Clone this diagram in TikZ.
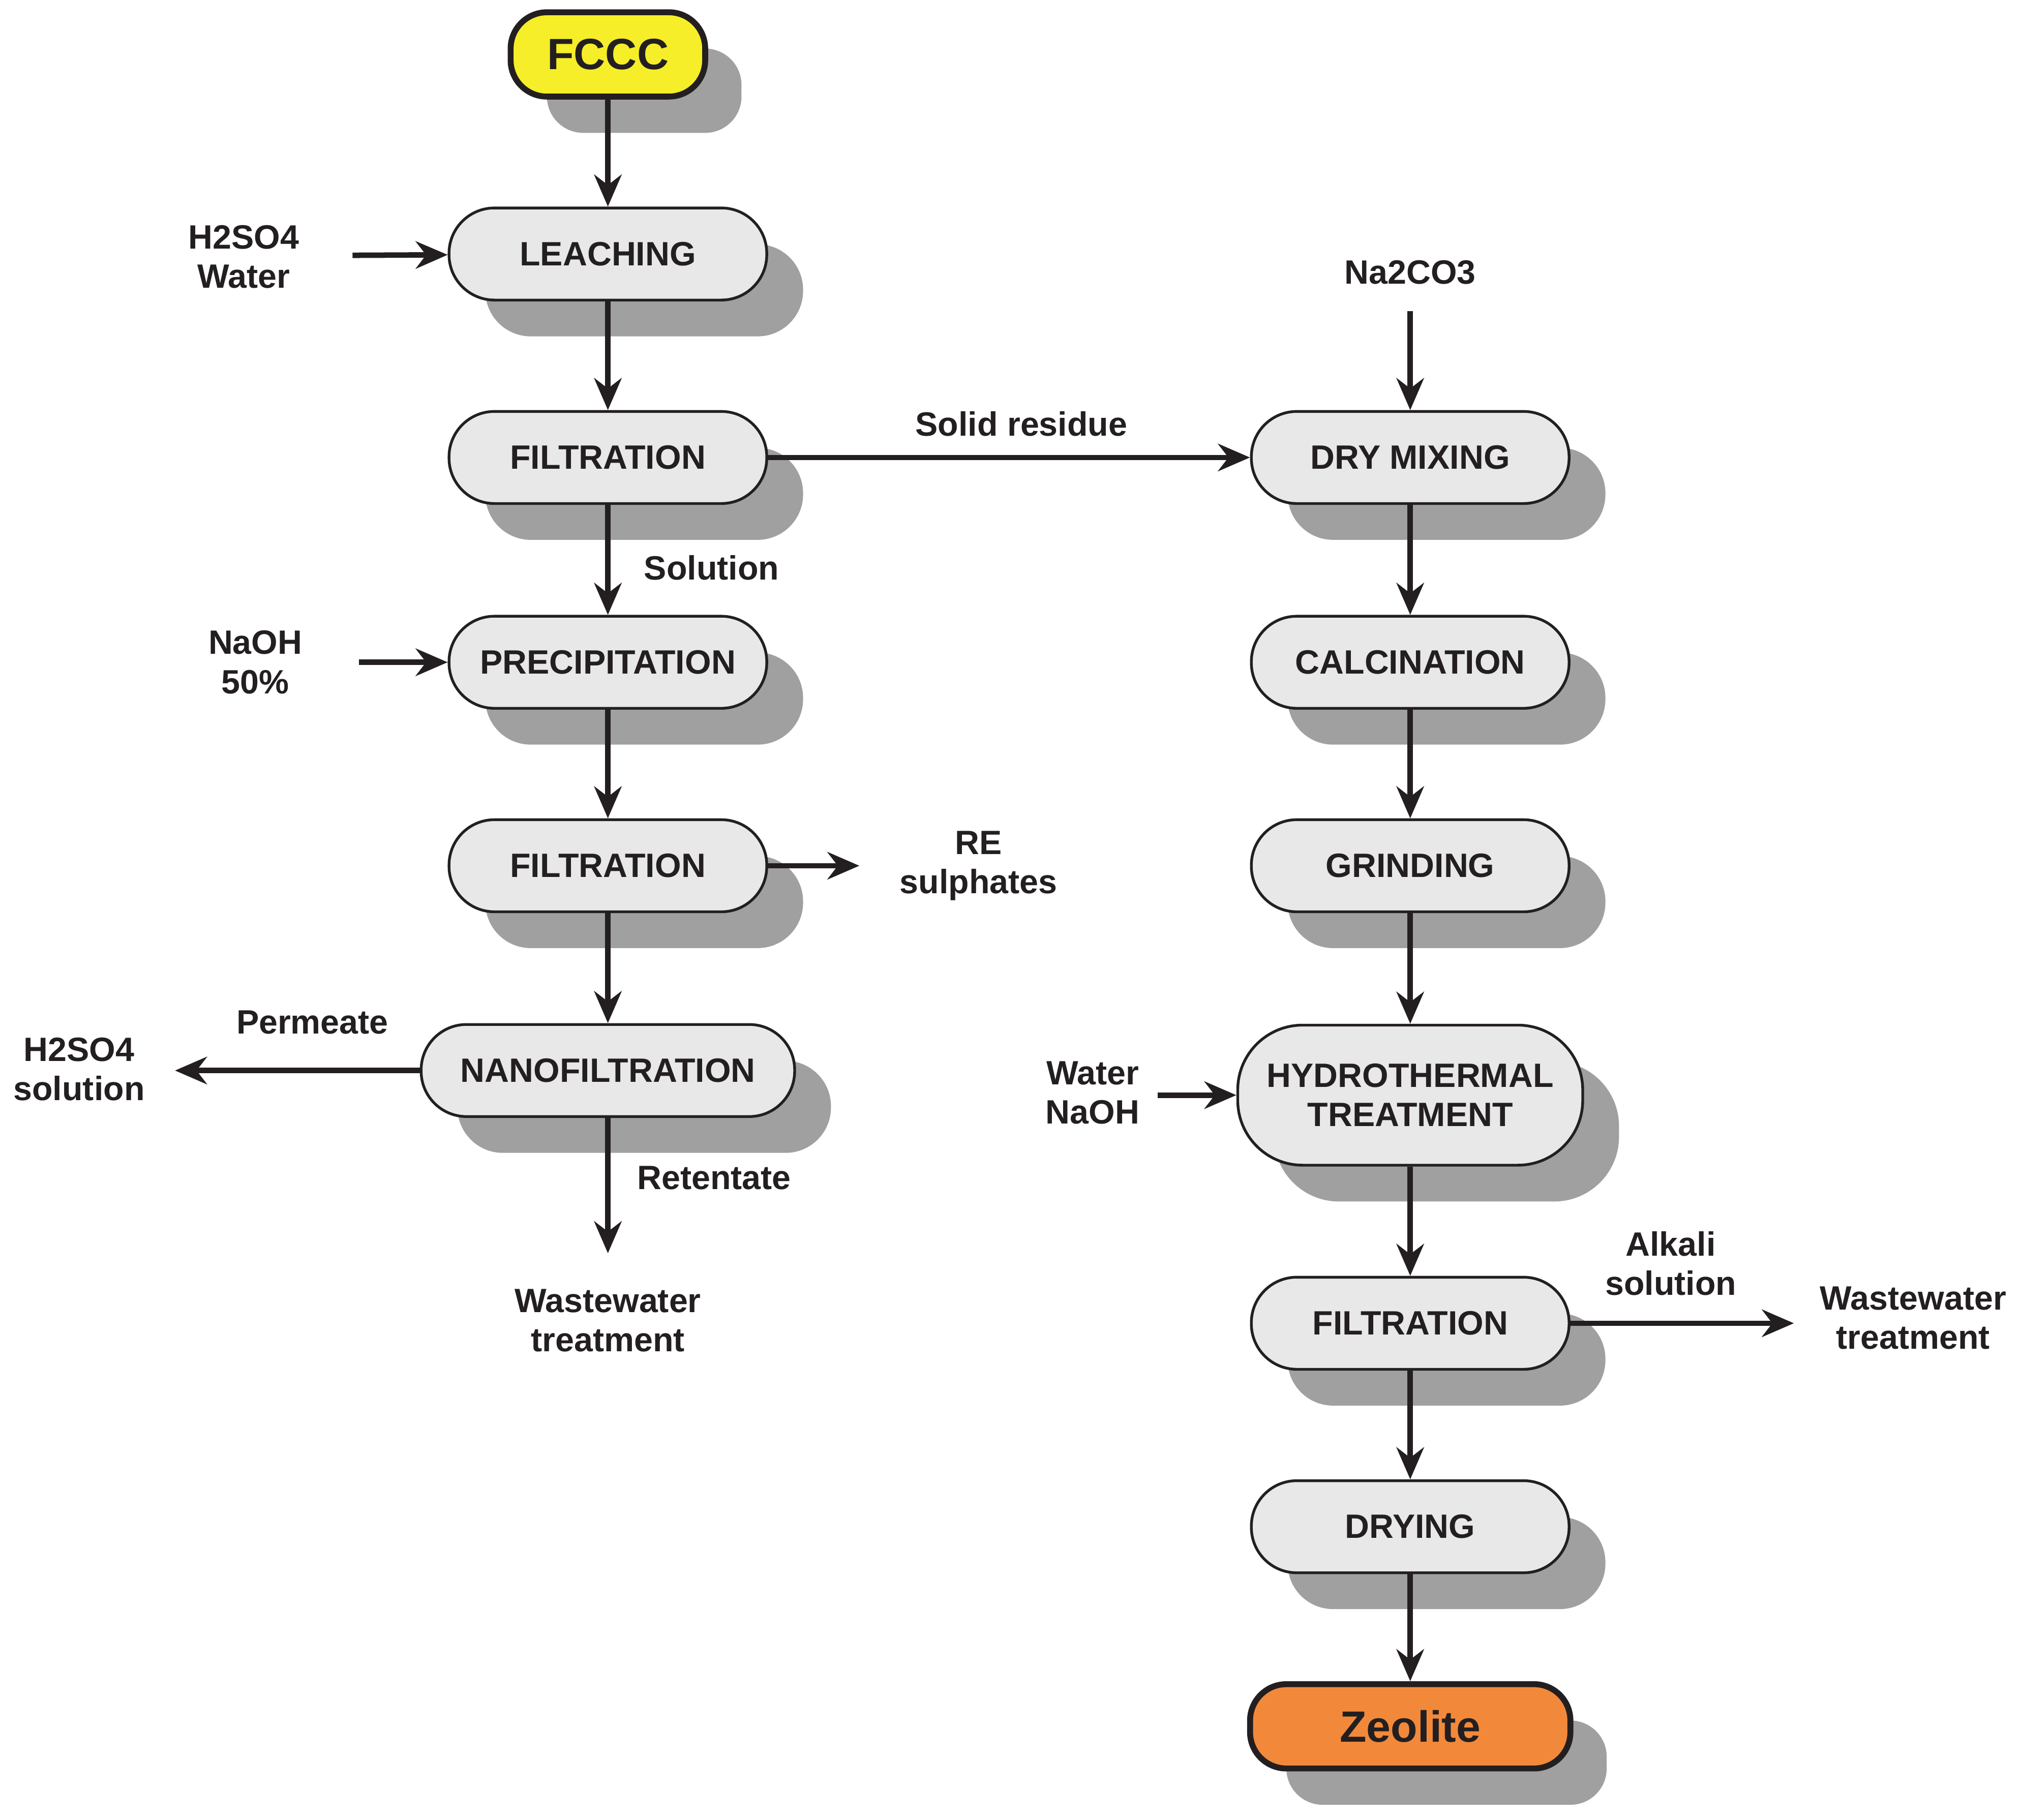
\documentclass[tikz,border=0pt]{standalone}
\usepackage{fontspec}
\setmainfont{Liberation Sans}
\usetikzlibrary{arrows.meta,shadows}
\definecolor{boxfill}{RGB}{231,232,231}
\definecolor{shad}{RGB}{160,160,160}
\definecolor{ln}{RGB}{35,31,32}
\definecolor{yel}{RGB}{245,238,40}
\definecolor{ora}{RGB}{242,137,58}
\begin{document}
\begin{tikzpicture}[x=0.01cm,y=-0.01cm,
  font=\fontsize{7.4}{8.6}\selectfont\bfseries,
  box/.style={draw=ln,line width=0.6pt,fill=boxfill,rounded corners=0.35cm,
     minimum width=2.45cm,minimum height=0.71cm,align=center,text=ln,
     drop shadow={shadow xshift=0.28cm,shadow yshift=-0.28cm,fill=shad,opacity=1}},
  term/.style={box,line width=1.3pt,minimum width=1.5cm,minimum height=0.65cm,rounded corners=0.28cm,font=\fontsize{9.6}{11}\selectfont\bfseries},
  lab/.style={align=center,text=ln,inner sep=0pt},
  arr/.style={draw=ln,line width=1.2pt,-{Stealth[length=7pt,width=6pt]}}]
\useasboundingbox (0,0) rectangle (1560,1404);
% left column
\node[term,fill=yel] (fccc) at (469,42) {FCCC};
\node[box] (leach) at (469,196) {LEACHING};
\node[box] (filt1) at (469,353) {FILTRATION};
\node[box] (prec) at (469,511) {PRECIPITATION};
\node[box] (filt2) at (469,668) {FILTRATION};
\node[box,minimum width=2.88cm] (nano) at (469,826) {NANOFILTRATION};
% right column
\node[box] (dry) at (1088,353) {DRY MIXING};
\node[box] (calc) at (1088,511) {CALCINATION};
\node[box] (grind) at (1088,668) {GRINDING};
\node[box,minimum width=2.66cm,minimum height=1.08cm,rounded corners=0.5cm] (hydro) at (1088,845) {HYDROTHERMAL\\TREATMENT};
\node[box] (filt3) at (1088,1021) {FILTRATION};
\node[box] (drying) at (1088,1178) {DRYING};
\node[term,fill=ora,minimum width=2.47cm] (zeo) at (1088,1332) {Zeolite};
% labels
\node[lab] (h2so4) at (188,198) {H2SO4\\Water};
\node[lab] (naoh) at (197,511) {NaOH\\50\%};
\node[lab] at (549,438) {Solution};
\node[lab] at (788,327) {Solid residue};
\node[lab] (re) at (755,668) {RE\\sulphates};
\node[lab] at (241,789) {Permeate};
\node[lab] (h2sol) at (61,825) {H2SO4\\solution};
\node[lab] at (551,909) {Retentate};
\node[lab] (ww1) at (469,1019) {Wastewater\\treatment};
\node[lab] (na2) at (1088,210) {Na2CO3};
\node[lab] (wn) at (843,843) {Water\\NaOH};
\node[lab] at (1289,975) {Alkali\\solution};
\node[lab] (ww2) at (1476,1017) {Wastewater\\treatment};
\coordinate (a1) at (272,197);
\coordinate (a2) at (277,511);
\coordinate (a3) at (663,668);
\coordinate (a4) at (135,826);
\coordinate (a5) at (469,967);
\coordinate (a6) at (1088,240);
\coordinate (a7) at (893,845);
\coordinate (a8) at (1384,1021);
% arrows
\draw[arr] (fccc) -- (leach);
\draw[arr] (leach) -- (filt1);
\draw[arr] (filt1) -- (prec);
\draw[arr] (prec) -- (filt2);
\draw[arr] (filt2) -- (nano);
\draw[arr] (a1) -- (leach);
\draw[arr] (a2) -- (prec);
\draw[arr] (filt1) -- (dry);
\draw[arr] (filt2) -- (a3);
\draw[arr] (nano) -- (a4);
\draw[arr] (nano) -- (a5);
\draw[arr] (a6) -- (dry);
\draw[arr] (dry) -- (calc);
\draw[arr] (calc) -- (grind);
\draw[arr] (grind) -- (hydro);
\draw[arr] (a7) -- (hydro);
\draw[arr] (hydro) -- (filt3);
\draw[arr] (filt3) -- (a8);
\draw[arr] (filt3) -- (drying);
\draw[arr] (drying) -- (zeo);
\end{tikzpicture}
\end{document}
